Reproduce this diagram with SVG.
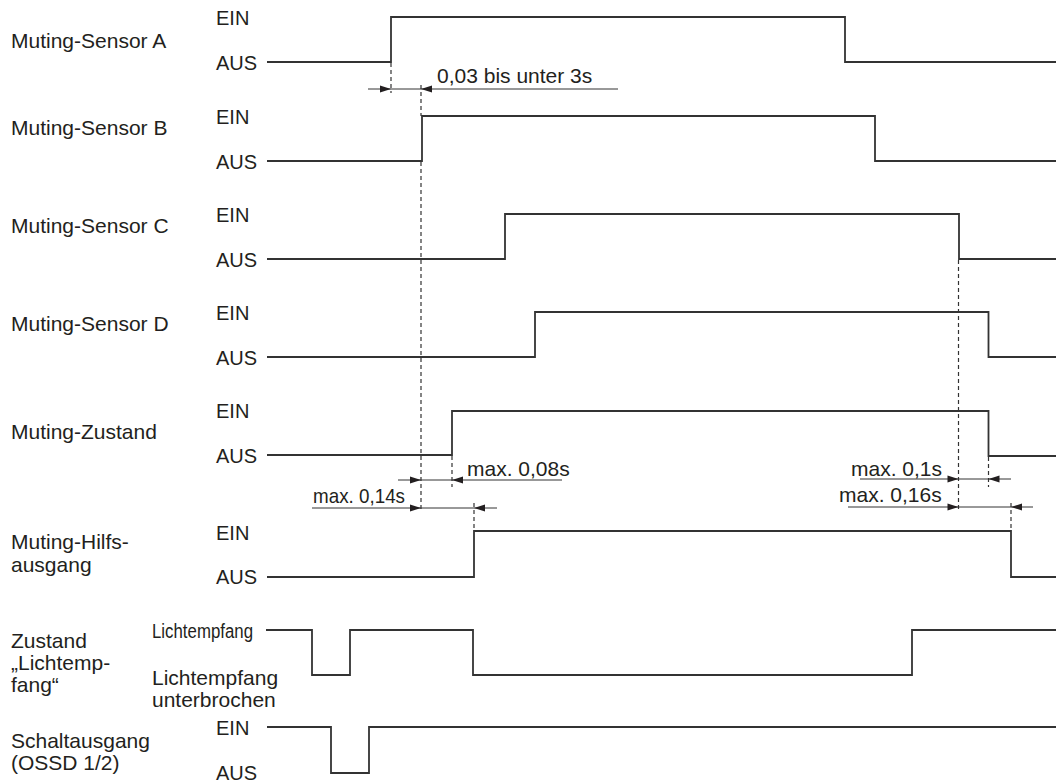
<svg xmlns="http://www.w3.org/2000/svg" xmlns:xlink="http://www.w3.org/1999/xlink" width="1056" height="782" viewBox="0 0 1056 782">
<style>
  text { font-family: "Liberation Sans", Arial, sans-serif; fill: #231f20; }
  .lbl { font-size: 21px; }
  .lv { font-size: 20px; }
  .dt { font-size: 21px; }
  .sig { fill: none; stroke: #333; stroke-width: 1.8; }
  .dim { fill: none; stroke: #333; stroke-width: 1; }
  .dash { fill: none; stroke: #333; stroke-width: 1.2; stroke-dasharray: 4 3; }
  .ah { fill: #231f20; }
</style>
<defs>
  <polygon id="arrR" class="ah" points="0,0 -11,-3.5 -11,3.5"/>
  <polygon id="arrL" class="ah" points="0,0 11,-3.5 11,3.5"/>
</defs>
<rect width="1056" height="782" fill="#ffffff"/>

<g id="sensor-a">
  <text class="lbl" x="11" y="48">Muting-Sensor A</text>
  <text class="lv" x="216" y="25">EIN</text>
  <text class="lv" x="216" y="70">AUS</text>
  <path class="sig" d="M267,62 H391 V17 H845 V62 H1056"/>
</g>
<g id="sensor-b">
  <text class="lbl" x="11" y="135">Muting-Sensor B</text>
  <text class="lv" x="216" y="124">EIN</text>
  <text class="lv" x="216" y="169">AUS</text>
  <path class="sig" d="M267,161 H422 V116 H875 V161 H1056"/>
</g>
<g id="sensor-c">
  <text class="lbl" x="11" y="233">Muting-Sensor C</text>
  <text class="lv" x="216" y="222">EIN</text>
  <text class="lv" x="216" y="267">AUS</text>
  <path class="sig" d="M267,259 H505 V214 H959 V259 H1056"/>
</g>
<g id="sensor-d">
  <text class="lbl" x="11" y="331">Muting-Sensor D</text>
  <text class="lv" x="216" y="320">EIN</text>
  <text class="lv" x="216" y="365">AUS</text>
  <path class="sig" d="M267,357 H535 V312 H988.5 V357 H1056"/>
</g>
<g id="muting-zustand">
  <text class="lbl" x="11" y="439">Muting-Zustand</text>
  <text class="lv" x="216" y="418">EIN</text>
  <text class="lv" x="216" y="463">AUS</text>
  <path class="sig" d="M267,455 H452 V411 H988.5 V456 H1056"/>
</g>
<g id="muting-hilfsausgang">
  <text class="lbl" x="11" y="549">Muting-Hilfs-</text>
  <text class="lbl" x="11" y="572">ausgang</text>
  <text class="lv" x="216" y="540">EIN</text>
  <text class="lv" x="216" y="584">AUS</text>
  <path class="sig" d="M267,577 H474 V531 H1011 V577 H1056"/>
</g>
<g id="zustand-lichtempfang">
  <text class="lbl" x="11" y="648">Zustand</text>
  <text class="lbl" x="11" y="670">„Lichtemp-</text>
  <text class="lbl" x="11" y="692">fang“</text>
  <text class="lv" x="152" y="638" textLength="101" lengthAdjust="spacingAndGlyphs">Lichtempfang</text>
  <text class="lbl" x="152" y="685">Lichtempfang</text>
  <text class="lbl" x="152" y="707">unterbrochen</text>
  <path class="sig" d="M266,630 H312 V675 H350 V630 H473 V675 H912 V630 H1056"/>
</g>
<g id="schaltausgang">
  <text class="lbl" x="11" y="748">Schaltausgang</text>
  <text class="lbl" x="11" y="770">(OSSD 1/2)</text>
  <text class="lv" x="216" y="735">EIN</text>
  <text class="lv" x="216" y="780">AUS</text>
  <path class="sig" d="M267,727 H331 V773 H369 V727 H1056"/>
</g>

<g id="connectors">
  <path class="dash" d="M391,63 V93 M421,85 V116 M421,162 V511 M452,456 V487 M474,503 V531 M958.5,260 V512 M988.5,457 V487 M1011,503 V531"/>
  <path class="dim" d="M368,89 H618 M398,480 H562 M312,508 H497 M860,479 H1011 M848,507 H1033"/>
  <use xlink:href="#arrR" x="391" y="89"/>
  <use xlink:href="#arrL" x="421" y="89"/>
  <use xlink:href="#arrR" x="421" y="480"/>
  <use xlink:href="#arrL" x="452" y="480"/>
  <use xlink:href="#arrR" x="421" y="508"/>
  <use xlink:href="#arrL" x="474" y="508"/>
  <use xlink:href="#arrR" x="958.5" y="479"/>
  <use xlink:href="#arrL" x="988.5" y="479"/>
  <use xlink:href="#arrR" x="958.5" y="507"/>
  <use xlink:href="#arrL" x="1011" y="507"/>
  <text class="dt" x="437" y="83">0,03 bis unter 3s</text>
  <text class="dt" x="467" y="476">max. 0,08s</text>
  <text class="dt" x="313" y="503" textLength="92" lengthAdjust="spacingAndGlyphs">max. 0,14s</text>
  <text class="dt" x="851" y="476">max. 0,1s</text>
  <text class="dt" x="839" y="502">max. 0,16s</text>
</g>
</svg>
